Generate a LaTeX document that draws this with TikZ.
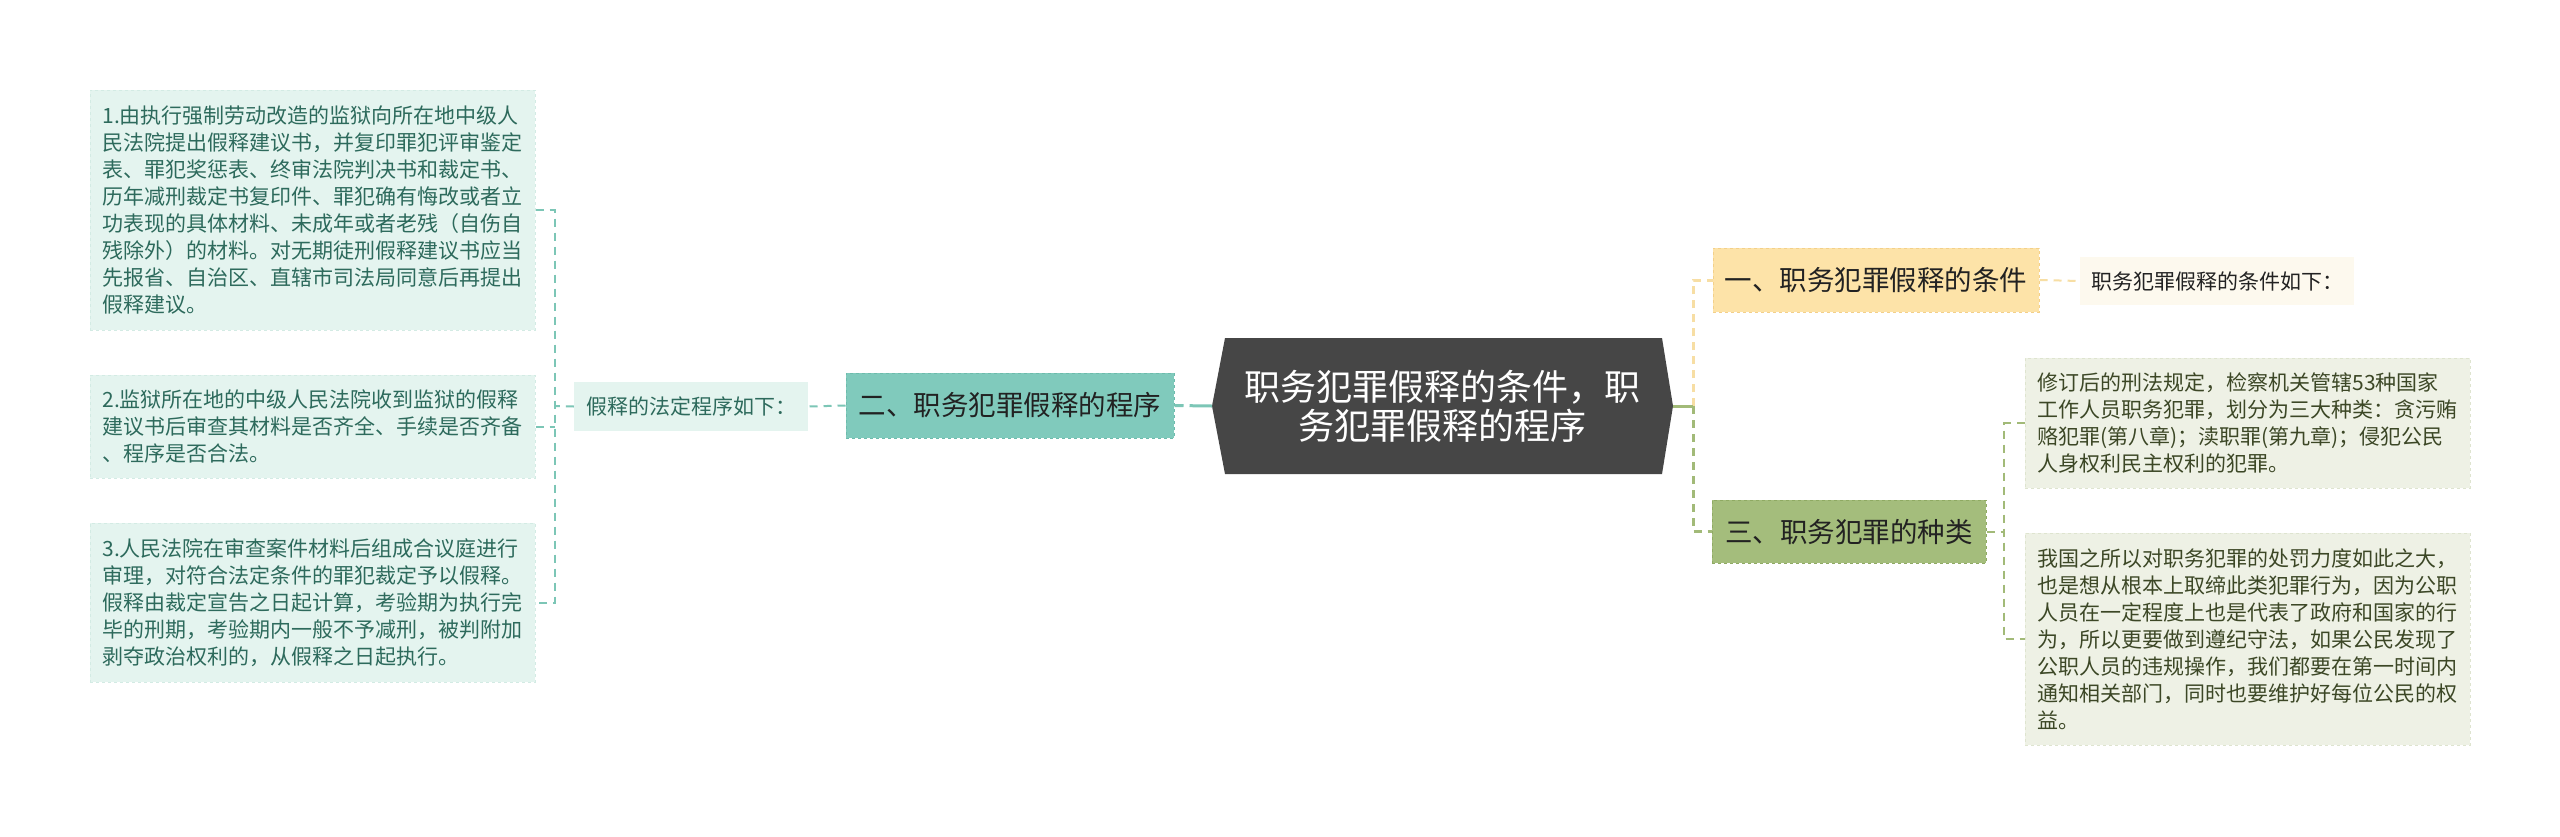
\documentclass[tikz,border=0pt]{standalone}
\usepackage{fontspec}
\newfontfamily\cjk{Noto Sans CJK SC}
\definecolor{rootc}{HTML}{464646}
\definecolor{tealc}{HTML}{80CABC}
\definecolor{tealb}{HTML}{6DBBAC}
\definecolor{tealline}{HTML}{7CC6B6}
\definecolor{tealleaf}{HTML}{E4F4EF}
\definecolor{tealleafb}{HTML}{D3EBE4}
\definecolor{tealtext}{HTML}{2D6A5C}
\definecolor{orangec}{HTML}{FDE3A8}
\definecolor{orangeb}{HTML}{F3D08A}
\definecolor{orangeline}{HTML}{F7DEA4}
\definecolor{creamc}{HTML}{FDF9EE}
\definecolor{greenc}{HTML}{A4BD7C}
\definecolor{greenb}{HTML}{8FAA63}
\definecolor{greenline}{HTML}{A2BA78}
\definecolor{greenleaf}{HTML}{EEF1E5}
\definecolor{greenleafb}{HTML}{DEE4CF}
\definecolor{greentext}{HTML}{3C4726}
\definecolor{darktext}{HTML}{222222}
\begin{document}
\begin{tikzpicture}[x=1pt,y=-1pt,
  box/.style={inner sep=0pt, align=left},
  leafL/.style={box, fill=tealleaf, draw=tealleafb, dashed, line width=1pt, text=tealtext,
     font=\cjk\fontsize{21}{27}\selectfont, minimum width=445pt},
  leafR/.style={box, fill=greenleaf, draw=greenleafb, dashed, line width=1pt, text=greentext,
     font=\cjk\fontsize{21}{27}\selectfont, minimum width=445pt},
  tealbox/.style={box, fill=tealc, draw=tealb, dashed, line width=1pt, text=darktext,
     font=\cjk\fontsize{27.5}{30}\selectfont},
  orangebox/.style={box, fill=orangec, draw=orangeb, dashed, line width=1pt, text=darktext,
     font=\cjk\fontsize{27.5}{30}\selectfont},
  greenbox/.style={box, fill=greenc, draw=greenb, dashed, line width=1pt, text=darktext,
     font=\cjk\fontsize{27.5}{30}\selectfont},
  tlab/.style={box, fill=tealleaf, text=tealtext, font=\cjk\fontsize{21}{24}\selectfont},
  olab/.style={box, fill=creamc, text=darktext, font=\cjk\fontsize{21}{24}\selectfont},
  tcon/.style={draw=tealline, line width=2pt, dash pattern=on 8pt off 6pt},
  ocon/.style={draw=orangeline, line width=3pt, dash pattern=on 8pt off 6pt},
  gcon/.style={draw=greenline, line width=3pt, dash pattern=on 8pt off 6pt},
  gcon2/.style={draw=greenline, line width=2pt, dash pattern=on 8pt off 6pt},
]
\useasboundingbox[fill=white] (0,0) rectangle (2560,836);

% root hexagon
\coordinate (rootW) at (1212,406);
\coordinate (rootE) at (1673,406);
\fill[rootc] (rootW) -- (1225,338) -- (1662,338) -- (rootE) -- (1662,474) -- (1225,474) -- cycle;
\node[inner sep=0pt, align=center, text=white, font=\cjk\fontsize{36}{39}\selectfont] (root) at (1442.5,406)
  {职务犯罪假释的条件，职\\务犯罪假释的程序};

% left branch
\node[tealbox, minimum width=328pt, minimum height=65pt] (b2) at (1010,405.5) {二、职务犯罪假释的程序};
\node[tlab, minimum width=234pt, minimum height=49pt] (lab2) at (691,406.5) {假释的法定程序如下：};

\node[leafL, minimum height=240pt] (l1) at (312.5,210) {1.由执行强制劳动改造的监狱向所在地中级人\\民法院提出假释建议书，并复印罪犯评审鉴定\\表、罪犯奖惩表、终审法院判决书和裁定书、\\历年减刑裁定书复印件、罪犯确有悔改或者立\\功表现的具体材料、未成年或者老残（自伤自\\残除外）的材料。对无期徒刑假释建议书应当\\先报省、自治区、直辖市司法局同意后再提出\\假释建议。};
\node[leafL, minimum height=103pt] (l2) at (312.5,426.5) {2.监狱所在地的中级人民法院收到监狱的假释\\建议书后审查其材料是否齐全、手续是否齐备\\、程序是否合法。};
\node[leafL, minimum height=159pt] (l3) at (312.5,602.5) {3.人民法院在审查案件材料后组成合议庭进行\\审理，对符合法定条件的罪犯裁定予以假释。\\假释由裁定宣告之日起计算，考验期为执行完\\毕的刑期，考验期内一般不予减刑，被判附加\\剥夺政治权利的，从假释之日起执行。};

% right branches
\node[orangebox, minimum width=326pt, minimum height=64pt] (b1) at (1876,280) {一、职务犯罪假释的条件};
\node[olab, minimum width=274pt, minimum height=48pt] (lab1) at (2217,281) {职务犯罪假释的条件如下：};
\node[greenbox, minimum width=274pt, minimum height=63pt] (b3) at (1849,531.5) {三、职务犯罪的种类};

\node[leafR, minimum height=130pt] (ra) at (2247.5,423) {修订后的刑法规定，检察机关管辖53种国家\\工作人员职务犯罪，划分为三大种类：贪污贿\\赂犯罪(第八章)；渎职罪(第九章)；侵犯公民\\人身权利民主权利的犯罪。};
\node[leafR, minimum height=212pt] (rb) at (2247.5,639) {我国之所以对职务犯罪的处罚力度如此之大，\\也是想从根本上取缔此类犯罪行为，因为公职\\人员在一定程度上也是代表了政府和国家的行\\为，所以更要做到遵纪守法，如果公民发现了\\公职人员的违规操作，我们都要在第一时间内\\通知相关部门，同时也要维护好每位公民的权\\益。};

% connectors left
\draw[draw=tealline, line width=3pt, dash pattern=on 9pt off 6pt on 400pt] (b2.east) -- (rootW);
\draw[tcon] (b2.west) -- (lab2.east);
\coordinate (lv) at (555,406);
\draw[tcon] (lab2.west) -- (lv);
\draw[tcon] (l1.east) -- (l1.east -| lv) -- (l3.east -| lv) -- (l3.east);
\draw[tcon] (l2.east) -- (l2.east -| lv);

% connectors right
\coordinate (rv) at (1693,406);
\draw[ocon] (rv) -- (rv |- b1.west) -- (b1.west);
\draw[draw=greenline, line width=3pt] (rootE) -- (rv);
\draw[gcon] (rv) -- (rv |- b3.west) -- (b3.west);
\draw[ocon, line width=2pt] (b1.east) -- (lab1.west);
\coordinate (gv) at (2004,531.5);
\draw[gcon2] (b3.east) -- (gv);
\draw[gcon2] (ra.west) -- (ra.west -| gv) -- (rb.west -| gv) -- (rb.west);
\end{tikzpicture}
\end{document}
